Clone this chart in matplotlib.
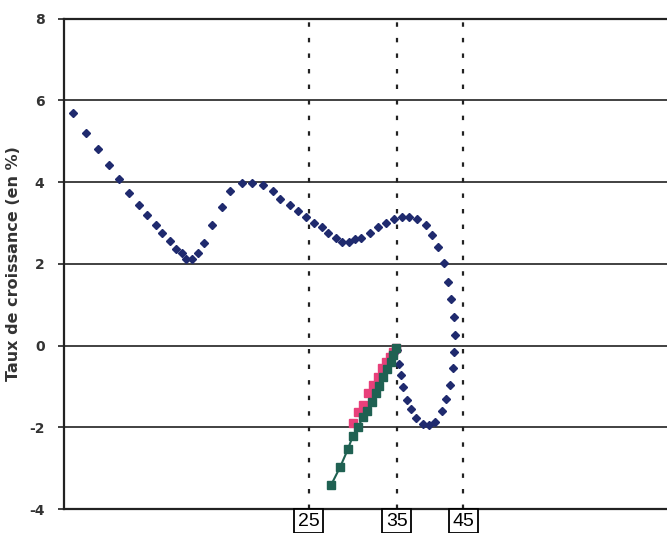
import matplotlib
matplotlib.use("Agg")
import matplotlib.pyplot as plt

# blue curve (diamonds), x in chart units 0-100, y in %
blue_x = [1.5, 3.6, 5.6, 7.5, 9.1, 10.8, 12.4, 13.8, 15.3, 16.3, 17.6, 18.6, 19.6, 20.2,
          21.2, 22.2, 23.2, 24.5, 26.2, 27.5, 29.5, 31.2, 33.0, 34.7, 35.8, 37.5, 38.8,
          40.1, 41.5, 42.8, 43.8, 45.1, 46.1, 47.3, 48.3, 49.3, 50.7, 52.1, 53.4, 54.7,
          56.1, 57.2, 58.5, 60.0, 61.0, 62.0, 63.0, 63.7, 64.2, 64.7, 64.8, 64.7, 64.5,
          64.0, 63.3, 62.7, 61.5, 60.5, 59.5, 58.4, 57.5, 56.9, 56.2, 55.9, 55.6, 55.2]
blue_y = [5.69, 5.20, 4.81, 4.42, 4.08, 3.73, 3.44, 3.20, 2.95, 2.76, 2.56, 2.36, 2.27, 2.12,
          2.12, 2.27, 2.51, 2.95, 3.39, 3.78, 3.98, 3.98, 3.93, 3.78, 3.59, 3.44, 3.29,
          3.15, 3.00, 2.90, 2.76, 2.63, 2.54, 2.54, 2.61, 2.63, 2.76, 2.90, 3.00, 3.10,
          3.15, 3.15, 3.10, 2.95, 2.71, 2.41, 2.02, 1.56, 1.14, 0.70, 0.26, -0.15, -0.55,
          -0.96, -1.30, -1.60, -1.87, -1.94, -1.92, -1.77, -1.55, -1.33, -1.01, -0.72, -0.45, -0.12]

# green squares with line
green_x = [44.3, 45.8, 47.1, 47.9, 48.8, 49.6, 50.2, 51.1, 51.7, 52.2, 52.9, 53.6, 54.2, 54.6, 55.1]
green_y = [-3.41, -2.97, -2.53, -2.21, -1.99, -1.74, -1.60, -1.38, -1.16, -0.99, -0.77, -0.57,
           -0.40, -0.23, -0.06]

# pink squares
pink_x = [47.9, 48.8, 49.6, 50.4, 51.2, 52.1, 52.7, 53.4, 54.1, 54.6, 55.1]
pink_y = [-1.89, -1.62, -1.45, -1.16, -0.96, -0.77, -0.55, -0.40, -0.28, -0.15, -0.06]

# vertical reference lines and their labels
vline_x = [40.6, 55.2, 66.2]
vline_labels = ["25", "35", "45"]

yticks = [-4, -2, 0, 2, 4, 6, 8]

fig = plt.figure(figsize=(6.67, 5.33), dpi=100)
ax = fig.add_axes([0.096, 0.045, 0.904, 0.92])

for y in yticks:
    ax.axhline(y, color="#333333", lw=1.3, zorder=1)
for x in vline_x:
    ax.axvline(x, color="#222222", lw=1.6, ls=(0, (2, 5)), zorder=1)

ax.plot(blue_x, blue_y, ls="none", marker="D", ms=4.3, color="#1f2a6e", zorder=3)
ax.plot(pink_x, pink_y, ls="none", marker="s", ms=6, color="#e8407a", zorder=4)
ax.plot(green_x, green_y, ls="-", lw=1.5, marker="s", ms=5.5, color="#1f6152", zorder=5)

for x, lab in zip(vline_x, vline_labels):
    ax.text(x, -4.3, lab, ha="center", va="center", fontsize=14, family="Liberation Sans",
            bbox=dict(boxstyle="square,pad=0.18", fc="white", ec="black", lw=1.3),
            clip_on=False, zorder=6)

ax.set_xlim(0, 100)
ax.set_ylim(-4, 8)
ax.set_yticks(yticks)
ax.set_yticklabels([str(v) for v in yticks], fontsize=10, fontweight="bold", color="#333333")
ax.tick_params(axis="y", length=4, width=1.3, color="#333333", pad=10)
ax.set_xticks([])
ax.set_ylabel("Taux de croissance (en %)", fontsize=11.5, fontweight="bold", color="#333333", labelpad=6)

for s in ["right"]:
    ax.spines[s].set_visible(False)
for s in ["left", "bottom", "top"]:
    ax.spines[s].set_linewidth(1.6)
    ax.spines[s].set_color("#222222")

fig.savefig("out.png", dpi=100)
